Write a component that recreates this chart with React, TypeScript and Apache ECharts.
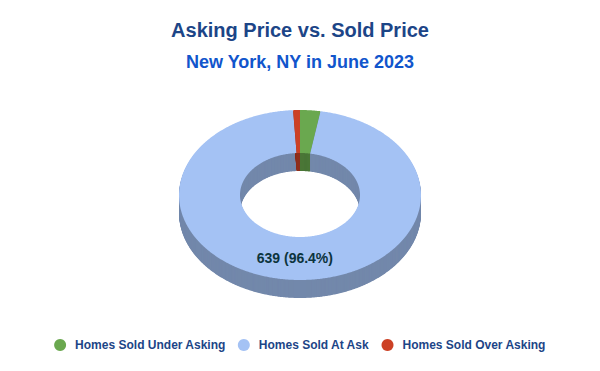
import React, { useEffect, useRef } from "react";
import * as echarts from "echarts";

const categories = ["Homes Sold Under Asking", "Homes Sold At Ask", "Homes Sold Over Asking"];
const values = [18, 639, 6];
const colors = ["#6aa84f", "#a4c2f4", "#cc4125"];
const titleText = "Asking Price vs. Sold Price";
const subtitleText = "New York, NY in June 2023";

const FONT = "Arial, 'Liberation Sans', sans-serif";

function shade(hex: string, f: number): string {
  const n = parseInt(hex.slice(1), 16);
  const r = Math.round(((n >> 16) & 255) * f);
  const g = Math.round(((n >> 8) & 255) * f);
  const b = Math.round((n & 255) * f);
  return "rgb(" + r + "," + g + "," + b + ")";
}

export default function App() {
  const ref = useRef<HTMLDivElement>(null);
  useEffect(() => {
    if (!ref.current) return;
    const chart = echarts.init(ref.current, null, { renderer: "svg" });
    const total = values.reduce((a, b) => a + b, 0);
    const starts: number[] = [];
    let acc = 0;
    values.forEach((v) => {
      starts.push(acc);
      acc += v;
    });
    const cx = 300, cy = 195, rx = 121, ry = 85, irx = 60, iry = 42, depth = 18;
    const ringPoints = (a0: number, a1: number, dy: number) => {
      const pts: number[][] = [];
      const n = Math.max(2, Math.ceil((a1 - a0) / (Math.PI / 360)));
      for (let i = 0; i <= n; i++) {
        const t = a0 + ((a1 - a0) * i) / n;
        pts.push([cx + rx * Math.sin(t), cy - ry * Math.cos(t) + dy]);
      }
      for (let i = n; i >= 0; i--) {
        const t = a0 + ((a1 - a0) * i) / n;
        pts.push([cx + irx * Math.sin(t), cy - iry * Math.cos(t) + dy]);
      }
      return pts;
    };
    const series = categories.map((name, i) => ({
      type: "custom",
      name,
      coordinateSystem: "none",
      itemStyle: { color: colors[i] },
      data: [values[i]],
      silent: true,
      renderItem: (params: any, api: any) => {
        const v = api.value(0);
        const a0 = (starts[i] / total) * Math.PI * 2;
        const a1 = ((starts[i] + v) / total) * Math.PI * 2;
        const dark = shade(colors[i], 0.7);
        const children: any[] = [];
        for (let d = depth; d >= 1; d -= 0.5) {
          children.push({
            type: "polygon",
            z2: 1,
            shape: { points: ringPoints(a0, a1, d) },
            style: { fill: dark },
          });
        }
        children.push({
          type: "polygon",
          z2: 10,
          shape: { points: ringPoints(a0, a1, 0) },
          style: { fill: colors[i] },
        });
        if (v / total > 0.05) {
          const am = (a0 + a1) / 2;
          children.push({
            type: "text",
            z2: 20,
            x: cx + ((rx + irx) / 2) * Math.sin(am),
            y: cy - ((ry + iry) / 2) * Math.cos(am),
            style: {
              text: v + " (" + ((v / total) * 100).toFixed(1) + "%)",
              fill: "#0c343d",
              font: "bold 14px " + FONT,
              align: "center",
              verticalAlign: "middle",
            },
          });
        }
        return { type: "group", children };
      },
    }));
    chart.setOption({
      animation: false,
      color: colors,
      title: [
        {
          text: titleText,
          left: "center",
          top: 15,
          textStyle: { fontSize: 20, fontWeight: "bold", color: "#1c4587", fontFamily: FONT },
        },
        {
          text: subtitleText,
          left: "center",
          top: 48,
          textStyle: { fontSize: 18, fontWeight: "bold", color: "#1155cc", fontFamily: FONT },
        },
      ],
      legend: {
        data: categories,
        top: 334,
        left: "center",
        icon: "circle",
        itemWidth: 20,
        itemHeight: 12,
        itemGap: 12,
        selectedMode: false,
        textStyle: { fontSize: 12, fontWeight: "bold", color: "#1c4587", fontFamily: FONT },
      },
      series,
    } as any);
    return () => chart.dispose();
  }, []);
  return (
    <div
      ref={ref}
      style={{ position: "absolute", left: 0, top: 0, width: 600, height: 371, background: "#fff" }}
    />
  );
}
